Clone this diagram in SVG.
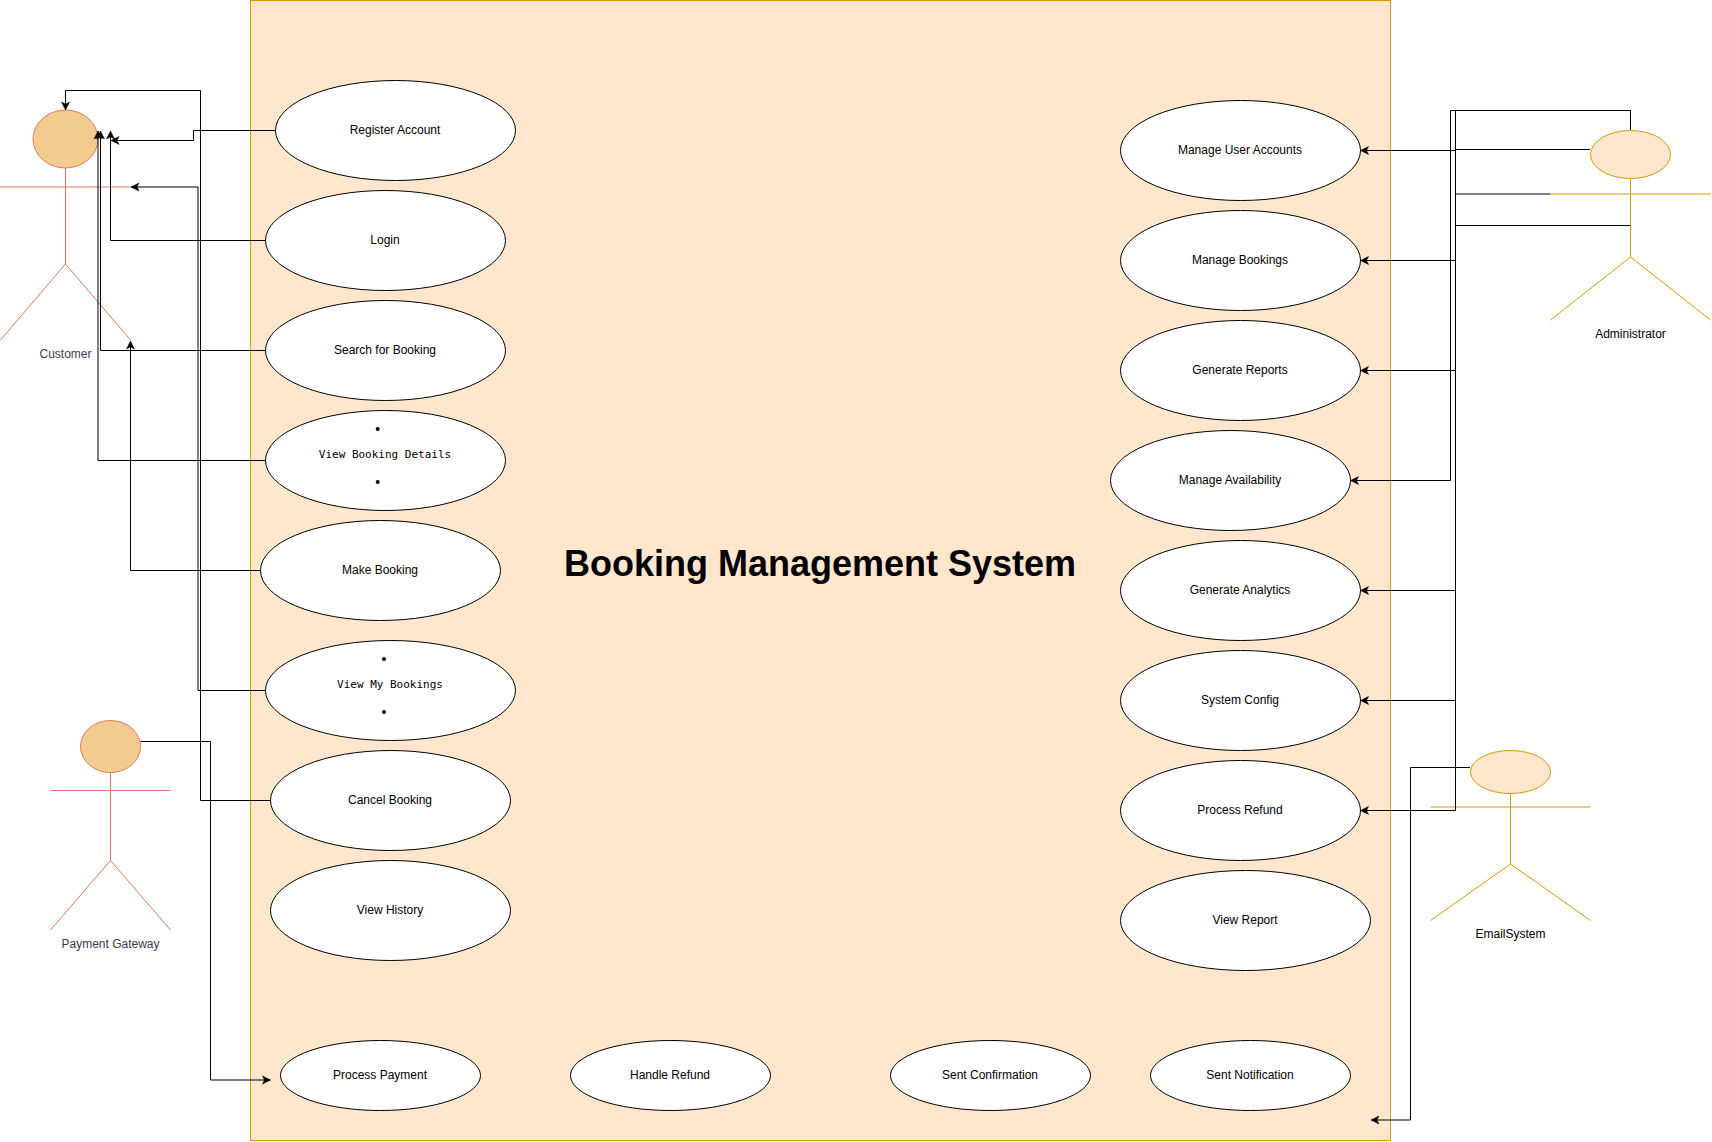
<svg xmlns="http://www.w3.org/2000/svg" width="1712" height="1142" viewBox="0 0 1712 1142">
<style>
text{font-family:"Liberation Sans",Arial,sans-serif;font-size:12px;text-anchor:middle;fill:#000}
.mono{font-family:"DejaVu Sans Mono","Liberation Mono",monospace;font-size:11px}
.uc{fill:#fff;stroke:#000;stroke-width:1}
.warm{fill:#F2CC8F;stroke:#E07A5F;stroke-width:1}
.warml{fill:none;stroke:#E07A5F;stroke-width:1}
.warmt{fill:#393C56}
.or{fill:#ffe6cc;stroke:#d79b00;stroke-width:1}
.orl{fill:none;stroke:#d79b00;stroke-width:1}
.c{fill:none;stroke:#000;stroke-width:1;marker-end:url(#arrow)}
.n{fill:none;stroke:#000;stroke-width:1}
.title{font-size:36px;font-weight:bold}
</style>
<defs>
<marker id="arrow" markerUnits="userSpaceOnUse" markerWidth="10" markerHeight="10" refX="8.5" refY="5" orient="auto">
<path d="M0.5 1L8.5 5L0.5 9L2.5 5Z" fill="#000" stroke="#000" stroke-width="0.5"/>
</marker>
</defs>
<g id="system"><rect class="or" x="250.5" y="0.5" width="1140" height="1140"/><text class="title" x="820" y="576">Booking Management System</text></g>

<g id="customer"><ellipse class="warm" cx="65.5" cy="139" rx="32.5" ry="29"/><path class="warml" d="M0 187H131M65.5 168V264M65.5 264L0.5 340M65.5 264L130.5 340"/><text class="warmt" x="65.5" y="358">Customer</text></g>
<g id="payment-gateway"><ellipse class="warm" cx="110.5" cy="746.5" rx="30" ry="26"/><path class="warml" d="M50.5 790.5H170.5M110.5 772.5V860.5M110.5 860.5L50.5 930M110.5 860.5L170.5 930"/><text class="warmt" x="110.5" y="948">Payment Gateway</text></g>
<g id="administrator"><ellipse class="or" cx="1630.5" cy="154.5" rx="40" ry="24"/><path class="orl" d="M1550.5 194H1710.5M1630.5 178.5V257M1630.5 257L1550.5 320M1630.5 257L1710.5 320"/><text x="1630.5" y="338">Administrator</text></g>
<g id="email-system"><ellipse class="or" cx="1510.5" cy="772" rx="40" ry="21.5"/><path class="orl" d="M1430.5 807H1590.5M1510.5 793.5V864M1510.5 864L1430.5 920.5M1510.5 864L1590.5 920.5"/><text x="1510.5" y="938">EmailSystem</text></g>

<g id="register-account"><ellipse class="uc" cx="395.5" cy="130.5" rx="120" ry="50"/><text x="395" y="134">Register Account</text></g>
<g id="login"><ellipse class="uc" cx="385.5" cy="240.5" rx="120" ry="50"/><text x="385" y="244">Login</text></g>
<g id="search-for-booking"><ellipse class="uc" cx="385.5" cy="350.5" rx="120" ry="50"/><text x="385" y="354">Search for Booking</text></g>
<g id="view-booking-details"><ellipse class="uc" cx="385.5" cy="460.5" rx="120" ry="50"/><circle cx="377.7" cy="429" r="2"/><text class="mono" x="385" y="458">View Booking Details</text><circle cx="377.7" cy="482" r="2"/></g>
<g id="make-booking"><ellipse class="uc" cx="380.5" cy="570.5" rx="120" ry="50"/><text x="380" y="574">Make Booking</text></g>
<g id="view-my-bookings"><ellipse class="uc" cx="390.5" cy="690.5" rx="125" ry="50"/><circle cx="384" cy="659" r="2"/><text class="mono" x="390" y="688">View My Bookings</text><circle cx="384" cy="712" r="2"/></g>
<g id="cancel-booking"><ellipse class="uc" cx="390.5" cy="800.5" rx="120" ry="50"/><text x="390" y="804">Cancel Booking</text></g>
<g id="view-history"><ellipse class="uc" cx="390.5" cy="910.5" rx="120" ry="50"/><text x="390" y="914">View History</text></g>
<g id="process-payment"><ellipse class="uc" cx="380.5" cy="1075.5" rx="100" ry="35"/><text x="380" y="1079">Process Payment</text></g>
<g id="handle-refund"><ellipse class="uc" cx="670.5" cy="1075.5" rx="100" ry="35"/><text x="670" y="1079">Handle Refund</text></g>
<g id="sent-confirmation"><ellipse class="uc" cx="990.5" cy="1075.5" rx="100" ry="35"/><text x="990" y="1079">Sent Confirmation</text></g>
<g id="sent-notification"><ellipse class="uc" cx="1250.5" cy="1075.5" rx="100" ry="35"/><text x="1250" y="1079">Sent Notification</text></g>
<g id="manage-user-accounts"><ellipse class="uc" cx="1240.5" cy="150.5" rx="120" ry="50"/><text x="1240" y="154">Manage User Accounts</text></g>
<g id="manage-bookings"><ellipse class="uc" cx="1240.5" cy="260.5" rx="120" ry="50"/><text x="1240" y="264">Manage Bookings</text></g>
<g id="generate-reports"><ellipse class="uc" cx="1240.5" cy="370.5" rx="120" ry="50"/><text x="1240" y="374">Generate Reports</text></g>
<g id="manage-availability"><ellipse class="uc" cx="1230.5" cy="480.5" rx="120" ry="50"/><text x="1230" y="484">Manage Availability</text></g>
<g id="generate-analytics"><ellipse class="uc" cx="1240.5" cy="590.5" rx="120" ry="50"/><text x="1240" y="594">Generate Analytics</text></g>
<g id="system-config"><ellipse class="uc" cx="1240.5" cy="700.5" rx="120" ry="50"/><text x="1240" y="704">System Config</text></g>
<g id="process-refund"><ellipse class="uc" cx="1240.5" cy="810.5" rx="120" ry="50"/><text x="1240" y="814">Process Refund</text></g>
<g id="view-report"><ellipse class="uc" cx="1245.5" cy="920.5" rx="125" ry="50"/><text x="1245" y="924">View Report</text></g>

<g id="connectors">
<path class="c" d="M275.5 130.5H193.5V140.5H111"/>
<path class="c" d="M270.5 800.5H200.5V90.5H65.5V110"/>
<path class="c" d="M265.5 690.5H198V187H131"/>
<path class="c" d="M265.5 240.5H110.5V131"/>
<path class="c" d="M265.5 350.5H100.5V131"/>
<path class="c" d="M265.5 460.5H98V131"/>
<path class="c" d="M260.5 570.5H130.5V341"/>
<path class="c" d="M140.5 741.5H210.5V1080H270.5"/>
<path class="c" d="M1630.5 130V110.5H1450.5V480.5H1350.5"/>
<path class="c" d="M1590 149.5H1455.5V150.5H1360.5"/>
<path class="n" d="M1630.5 110.5H1455.5V810.5"/>
<path class="n" d="M1550.5 194H1455.5"/>
<path class="n" d="M1630.5 225.5H1455.5"/>
<path class="c" d="M1455.5 260.5H1360.5"/>
<path class="c" d="M1455.5 370.5H1360.5"/>
<path class="c" d="M1455.5 590.5H1360.5"/>
<path class="c" d="M1455.5 700.5H1360.5"/>
<path class="c" d="M1455.5 810.5H1360.5"/>
<path class="c" d="M1470 767.5H1410.5V1120H1371"/>
</g>
</svg>
